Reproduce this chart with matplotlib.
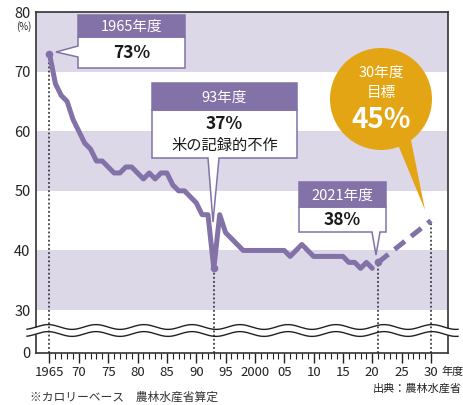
import matplotlib
matplotlib.use("Agg")
import matplotlib.pyplot as plt
from matplotlib.patches import Rectangle, Polygon, Ellipse
import numpy as np

plt.rcParams['font.family'] = ['Noto Sans CJK JP', 'DejaVu Sans']

# food self-sufficiency ratio (calorie basis), %
years = list(range(1965, 2021))
rates = [73, 68, 66, 65, 62, 60, 58, 57, 55, 55,
         54, 53, 53, 54, 54, 53, 52, 53, 52, 53,
         53, 51, 50, 50, 49, 48, 46, 46, 37, 46,
         43, 42, 41, 40, 40, 40, 40, 40, 40, 40,
         40, 39, 40, 41, 40, 39, 39, 39, 39, 39,
         39, 38, 38, 37, 38, 37]
last_year, last_rate = 2021, 38
target_year, target_rate = 2030, 45
marked = [(1965, 73), (1993, 37), (2021, 38), (2030, 45)]

xticks = list(range(1965, 2031, 5))
xlabels = ['1965', '70', '75', '80', '85', '90', '95', '2000',
           '05', '10', '15', '20', '25', '30']
yticks = [30, 40, 50, 60, 70, 80]
zero_pos = 22.8  # where the broken axis shows "0"

purple = '#8272a8'
band = '#dcd8e8'
orange = '#e3a513'

W, H = 464, 405
fig = plt.figure(figsize=(W / 100, H / 100), dpi=100)


def P(x, y):
    return (x / W, 1 - y / H)


ax = fig.add_axes([36 / W, 1 - 353 / H, (448 - 36) / W, (353 - 12) / H])
ax.set_xlim(1962.7, 2032.9)
ax.set_ylim(zero_pos, 80)

for lo in (30, 50, 70):
    ax.axhspan(lo, lo + 10, color=band, lw=0, zorder=0)

ax.plot(years, rates, color=purple, lw=3.6, solid_joinstyle='round',
        solid_capstyle='round', zorder=5)
ax.plot([last_year, target_year], [last_rate, target_rate], color=purple,
        lw=3.6, dashes=(2.6, 1.6), zorder=5)
for yr, v in marked[:3]:
    ax.plot(yr, v, 'o', color=purple, ms=4.5, zorder=6)
for yr, v in marked:
    ax.plot([yr, yr], [zero_pos, v], color='#222', lw=1.1, ls=(0, (1.2, 1.5)),
            zorder=4)

ax.set_xticks(xticks)
ax.set_xticklabels(xlabels)
ax.set_xticks(range(1965, 2031), minor=True)
ax.set_yticks([zero_pos] + yticks)
ax.set_yticklabels(['0'] + [str(v) for v in yticks])
ax.tick_params(axis='x', which='major', length=7, width=1, pad=2,
               labelsize=9.5, colors='#222')
ax.tick_params(axis='x', which='minor', length=4, width=0.8, color='#222')
ax.tick_params(axis='y', length=0, pad=4, labelsize=10.5, colors='#222')
for s in ax.spines.values():
    s.set_color('#333')
    s.set_linewidth(1.2)

# axis break (two wavy lines)
wx = np.linspace(27, 458, 400)
w1 = 327 + 2.4 * np.sin(2 * np.pi * (wx - 12) / 48)
w2 = w1 + 7
tr = fig.transFigure
ax.fill_between(wx / W, 1 - w1 / H, 1 - w2 / H, color='white', lw=0,
                transform=tr, clip_on=False, zorder=3)
ax.plot(wx / W, 1 - w1 / H, color='#222', lw=1, transform=tr, clip_on=False,
        zorder=3.5)
ax.plot(wx / W, 1 - w2 / H, color='#222', lw=1, transform=tr, clip_on=False,
        zorder=3.5)


def callout(x0, x1, yt, yh, yb, pointer, head, lines):
    body = [P(x0, yh), P(x1, yh), P(x1, yb)]
    if pointer[0] == 'left':
        _, b1, b2, tip = pointer
        body += [P(x0, yb), P(x0, b2), P(*tip), P(x0, b1)]
    else:
        _, b1, b2, tip = pointer
        body += [P(b2, yb), P(*tip), P(b1, yb), P(x0, yb)]
    fig.add_artist(Polygon(body, closed=True, fc='white', ec=purple, lw=1.1,
                           zorder=10))
    fig.add_artist(Rectangle(P(x0, yh), (x1 - x0) / W, (yh - yt) / H,
                             fc=purple, ec=purple, lw=1.1, zorder=11))
    cx = (x0 + x1) / 2
    fig.text(*P(cx, (yt + yh) / 2 + 1), head, color='white', fontsize=10.5,
             ha='center', va='center', zorder=12)
    for (txt, y, size, wt) in lines:
        fig.text(*P(cx, y), txt, color='#1a1a1a', fontsize=size,
                 fontweight=wt, ha='center', va='center', zorder=12)


callout(78, 185, 15, 37, 68, ('left', 46, 57, (56, 52)), '1965年度',
        [('73%', 53, 12.5, 'bold')])
callout(152, 297, 83, 110, 158, ('bottom', 208, 219, (213, 222)), '93年度',
        [('37%', 124, 12.5, 'bold'), ('米の記録的不作', 145, 11, 'normal')])
callout(299, 386, 182, 207, 232, ('bottom', 372, 380, (376, 255)), '2021年度',
        [('38%', 220, 12.5, 'bold')])

# target bubble
fig.add_artist(Polygon([P(394, 135), P(410, 135), P(425, 210)], closed=True,
                       fc=orange, ec='none', zorder=10))
fig.add_artist(Ellipse(P(381, 99), 102 / W, 102 / H, fc=orange, ec='none',
                       zorder=10))
fig.text(*P(381, 73), '30年度', color='white', fontsize=10.5, ha='center',
         va='center', zorder=12)
fig.text(*P(381, 93), '目標', color='white', fontsize=10.5, ha='center',
         va='center', zorder=12)
fig.text(*P(381, 120), '45%', color='white', fontsize=20, fontweight='bold',
         ha='center', va='center', zorder=12)

fig.text(*P(24, 27), '(%)', fontsize=7, ha='center', va='center', color='#222')
fig.text(*P(441, 372), '年度', fontsize=8, ha='left', va='center',
         color='#222')
fig.text(*P(462, 389), '出典：農林水産省', fontsize=8, ha='right',
         va='center', color='#222')
fig.text(*P(30, 397), '※カロリーベース　農林水産省算定', fontsize=8.5,
         ha='left', va='center', color='#333')

fig.savefig('out.png', dpi=100)
